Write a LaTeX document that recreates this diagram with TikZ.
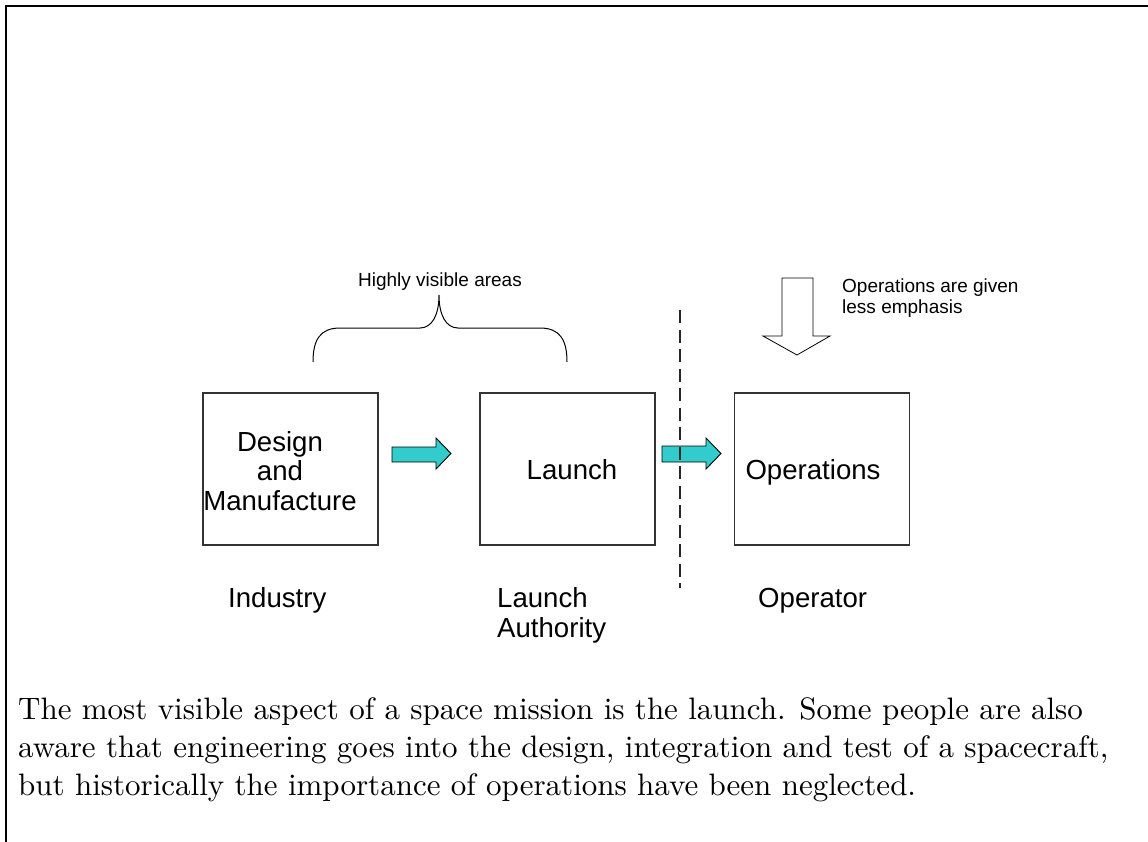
\documentclass[tikz,border=0pt]{standalone}
\usepackage{fontspec}
\newfontfamily\arial{Liberation Sans}
\newfontfamily\capfont{lmroman10-regular.otf}
\definecolor{arrowcyan}{RGB}{51,204,204}
\begin{document}
\begin{tikzpicture}[x=1pt,y=-1pt,
  box/.style={draw=black!80, line width=1.1pt, minimum width=175pt, minimum height=152pt, inner sep=0pt},
  lbl/.style={font=\arial\fontsize{27.6}{29.5}\selectfont, inner sep=0pt},
  note/.style={font=\arial\fontsize{19}{20}\selectfont, inner sep=0pt},
  caption/.style={font=\capfont\fontsize{31}{38}\selectfont, inner sep=0pt, anchor=base west},
  blockarrow/.style={draw=black, line width=0.9pt, fill=arrowcyan, line join=miter},
  hollowarrow/.style={draw=black, line width=0.8pt, fill=white},
  divider/.style={draw=black!85, line width=1.1pt, dash pattern=on 13pt off 6.5pt},
  brace/.style={draw=black, line width=1pt}]

\useasboundingbox (0,0) rectangle (1148,842);

% page frame (top and left edges)
\draw[line width=2.2pt] (6,842) -- (6,6) -- (1148,6);

% the three stages
\node[box] (b1) at (290.5,469) {};
\node[box] (b2) at (567.5,469) {};
\node[box] (b3) at (822,469) {};

\node[lbl, align=center] (t1) at (280,471) {Design\\and\\Manufacture};
\node[lbl, anchor=base] (t2) at (572,479) {Launch};
\node[lbl, anchor=base] (t3) at (813,479) {Operations};

% block arrows between stages
\draw[blockarrow] (392,447) -- (436,447) -- (436,438) -- (451,453.5) -- (436,469) -- (436,462) -- (392,462) -- cycle;
\draw[blockarrow] (662,446) -- (706,446) -- (706,438) -- (721,453.5) -- (706,469) -- (706,462) -- (662,462) -- cycle;

% divider between launch and operations
\coordinate (dtop) at (680,310);
\coordinate (dbot) at (680,588);
\draw[divider] (dtop) -- (dbot);

% who is responsible
\node[lbl, anchor=base west] (o1) at (228,607) {Industry};
\node[lbl, anchor=base west] (o2) at (497,607) {Launch};
\node[lbl, anchor=base west] (o2b) at (497,637) {Authority};
\node[lbl, anchor=base west] (o3) at (758,607) {Operator};

% brace over the first two stages
\draw[brace] (313,362) .. controls (313,340) and (320,328) .. (340,328) -- (420,328)
  .. controls (432,328) and (439,315) .. (439,295)
  .. controls (439,315) and (446,328) .. (458,328) -- (540,328)
  .. controls (560,328) and (567,340) .. (567,362);
\node[note, anchor=base] (hv) at (440,287) {Highly visible areas};

% emphasis arrow above operations
\draw[hollowarrow] (782,278) -- (813,278) -- (813,336) -- (830,336) -- (797,355) -- (763,336) -- (782,336) -- cycle;
\node[note, anchor=base west] (em1) at (842,293) {Operations are given};
\node[note, anchor=base west] (em2) at (842,313) {less emphasis};

% caption
\node[caption] (c1) at (18,719) {The most visible aspect of a space mission is the launch. Some people are also};
\node[caption] (c2) at (18,757) {aware that engineering goes into the design, integration and test of a spacecraft,};
\node[caption] (c3) at (18,795) {but historically the importance of operations have been neglected.};
\end{tikzpicture}
\end{document}
